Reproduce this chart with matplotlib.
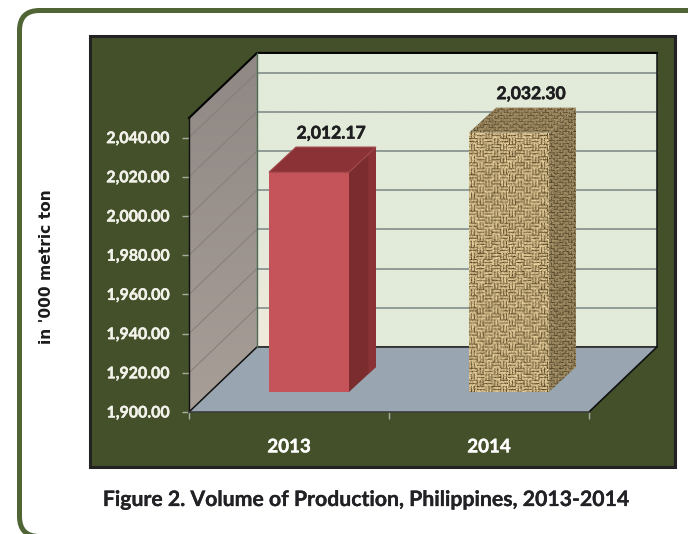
import numpy as np
import matplotlib
matplotlib.use('Agg')
from matplotlib import pyplot as plt
from matplotlib import patheffects as pe
from matplotlib.colors import to_rgb
from matplotlib.patches import FancyBboxPatch, Polygon, Rectangle

years = ['2013', '2014']
production = [2012.17, 2032.30]
value_labels = ['2,012.17', '2,032.30']
y_ticks = [1900, 1920, 1940, 1960, 1980, 2000, 2020, 2040]
y_title = "in '000 metric ton"
caption = 'Figure 2. Volume of Production, Philippines, 2013-2014'

W, H = 688, 534
FONT = 'Lato'

fig = plt.figure(figsize=(W / 100, H / 100), dpi=100, facecolor='white')


def heavy(txt, color, lw=0.4):
    # the original type is a bit heavier than Lato Bold
    txt.set_path_effects([pe.withStroke(linewidth=lw, foreground=color)])


# page frame and dark panel, in pixels
bg = fig.add_axes([0, 0, 1, 1])
bg.set_xlim(0, W)
bg.set_ylim(H, 0)
bg.axis('off')
bg.add_patch(FancyBboxPatch((19.5, 10.5), 720, 526, boxstyle='round,pad=0,rounding_size=20',
                            fc='white', ec='#4f6535', lw=3.6))
bg.add_patch(Rectangle((90, 36), 585, 431, fc='#435029', ec='#222222', lw=2.2))
bg.text(47, 267, y_title, rotation=90, ha='center', va='center', fontsize=11.2,
        fontweight='bold', family='DejaVu Sans', color='#1c1c1c')
t = bg.text(366, 500, caption, ha='center', va='center', fontsize=15.3,
            fontweight='bold', family=FONT, color='#222226')
heavy(t, '#222226', 0.2)

# main axes sit on the front plane of the 3d box
ax = fig.add_axes([189 / W, (H - 412) / H, 400 / W, 294 / H])
ax.patch.set_alpha(0)
ax.set_xlim(-0.5, 1.5)
ax.set_ylim(1900, 2050)
for s in ax.spines.values():
    s.set_visible(False)

DX = 0.34   # box depth in category units
DY = 33.2   # box depth in value units
x0, x1 = ax.get_xlim()
y0, y1 = ax.get_ylim()


def poly(pts, **kw):
    p = Polygon(pts, closed=True, clip_on=False, **kw)
    ax.add_patch(p)
    return p


def paint(img, clip, extent, zorder, interp='bilinear'):
    im = ax.imshow(img, extent=extent, origin='lower', aspect='auto', zorder=zorder, interpolation=interp)
    im.set_clip_box(fig.bbox)
    im.set_clip_path(clip)


# walls and floor
back = poly([(x0 + DX, y0 + DY), (x1 + DX, y0 + DY), (x1 + DX, y1 + DY), (x0 + DX, y1 + DY)],
            fc='none', ec='none', zorder=1)
u, v = np.meshgrid(np.linspace(0, 1, 64), np.linspace(0, 1, 64))
beige = np.clip(1 - u * 3.5, 0, 1) * np.clip(1 - v * 2.2, 0, 1)
wall = (np.array(to_rgb('#e2ead9')) * (1 - beige[..., None]) + np.array(to_rgb('#f0e9dc')) * beige[..., None])
paint(wall, back, (x0 + DX, x1 + DX, y0 + DY, y1 + DY), 1)
side = poly([(x0, y0), (x0 + DX, y0 + DY), (x0 + DX, y1 + DY), (x0, y1)], fc='none', ec='none', zorder=1)
fade = np.linspace(0, 1, 64)[:, None, None]
paint(np.array(to_rgb('#a89e98')) * (1 - fade) + np.array(to_rgb('#8f8884')) * fade, side,
      (x0, x0 + DX, y0, y1 + DY), 1)
poly([(x0, y0), (x1, y0), (x1 + DX, y0 + DY), (x0 + DX, y0 + DY)], fc='#99a6b2', ec='none', zorder=1)

# gridlines, across the back wall and down the side wall
for g in y_ticks[1:]:
    ax.plot([x0 + DX, x1 + DX], [g + DY, g + DY], color='#8b9590', lw=1.3, zorder=2, clip_on=False)
    ax.plot([x0, x0 + DX], [g, g + DY], color='#857d78', lw=0.7, zorder=2, clip_on=False)
ax.plot([x0, x0 + DX, x1 + DX], [y1, y1 + DY, y1 + DY], color='black', lw=1.5, zorder=3, clip_on=False)
ax.plot([x0, x0 + DX, x1 + DX, x1 + DX], [y0, y0 + DY, y0 + DY, y1 + DY], color='#111111', lw=1.1,
        zorder=3, clip_on=False)
ax.plot([x1, x1 + DX], [y0, y0 + DY], color='#111111', lw=1.2, zorder=3, clip_on=False)
ax.plot([x0, x0], [y0, y1], color='#111111', lw=1.0, zorder=3, clip_on=False)
ax.plot([x0 + DX, x0 + DX], [y0 + DY, y1 + DY], color='#4d6b55', lw=1.0, zorder=3, clip_on=False)
ax.plot([x0, x1], [y0, y0], color='#3a3f3a', lw=1.2, zorder=3, clip_on=False)

# bars
BAR_W = 0.40
OFF_X, OFF_Y = 0.10, 10.2      # bar front inset from the axes plane
BAR_DX, BAR_DY = 0.135, 12.8   # bar depth


def burlap(shape, light, dark, cell=6):
    # deterministic basket weave with some uneven grain
    rows, cols = np.mgrid[0:shape[0], 0:shape[1]].astype(float)
    flip = ((rows // cell + cols // (cell + 2)) % 2).astype(bool)
    across = (rows % 3 < 1.5).astype(float)
    down = (cols % 3 < 1.5).astype(float)
    k = np.where(flip, across, down)
    hash_ = np.sin(rows * 12.9898 + cols * 78.233) * 43758.5453
    hash_ = hash_ - np.floor(hash_)
    k = k * 0.55 + hash_ * 0.55 - 0.02
    k = np.clip(k, 0, 1)[..., None]
    return np.array(to_rgb(dark)) * (1 - k) + np.array(to_rgb(light)) * k


for i, val in enumerate(production):
    l = i - BAR_W / 2 + OFF_X
    r = i + BAR_W / 2 + OFF_X
    b = y0 + OFF_Y
    t = val + OFF_Y
    front = [(l, b), (r, b), (r, t), (l, t)]
    right = [(r, b), (r + BAR_DX, b + BAR_DY), (r + BAR_DX, t + BAR_DY), (r, t)]
    top = [(l, t), (r, t), (r + BAR_DX, t + BAR_DY), (l + BAR_DX, t + BAR_DY)]
    if i == 0:
        poly(front, fc='#c4545a', ec='none', zorder=4)
        poly(right, fc='#7a2c2e', ec='none', zorder=4)
        # lighter strip along the far edge of the side face
        s = 0.72
        poly([(r + BAR_DX * s, b + BAR_DY * s), (r + BAR_DX, b + BAR_DY), (r + BAR_DX, t + BAR_DY),
              (r + BAR_DX * s, t + BAR_DY * s)], fc='#8a3235', ec='none', zorder=4)
        poly(top, fc='#8b3236', ec='#a2484a', lw=0.8, zorder=4)
    else:
        fp = poly(front, fc='none', ec='none', zorder=4)
        paint(burlap((258, 82), '#ecd4a0', '#4f3c1c'), fp, (l, r, b, t), 4)
        rp = poly(right, fc='none', ec='none', zorder=4)
        paint(burlap((285, 28), '#a8946a', '#4f4226', cell=3), rp, (r, r + BAR_DX, b, t + BAR_DY), 4)
        tp = poly(top, fc='none', ec='none', zorder=4)
        paint(burlap((26, 108), '#a8946a', '#5a4a2c', cell=3), tp, (l, r + BAR_DX, t, t + BAR_DY), 4)
    lab = ax.annotate(value_labels[i], (i + OFF_X + 0.11, t + BAR_DY), xytext=(0, 13.5),
                      textcoords='offset pixels', ha='center', va='center', fontsize=12.6, fontweight='bold',
                      family=FONT, color='#1e1e20', zorder=5, annotation_clip=False)
    heavy(lab, '#1e1e20')

ax.set_xlim(x0, x1)
ax.set_ylim(y0, y1)
ax.set_xticks([-0.5, 0.5, 1.5])
ax.set_xticklabels([])
ax.set_xticks([0, 1], labels=years, minor=True)
ax.tick_params(axis='x', which='major', length=5, width=1, color='#a9ada0', direction='out')
ax.tick_params(axis='x', which='minor', length=0, pad=19, labelsize=13.5, labelcolor='white')
ax.set_yticks(y_ticks)
ax.set_yticklabels([f'{g:,.2f}' for g in y_ticks])
ax.tick_params(axis='y', length=5, width=1, color='#a9ada0', pad=9, labelsize=11.5, labelcolor='#f2f2ea')
for lab in ax.get_xticklabels(minor=True) + ax.get_yticklabels():
    lab.set_family(FONT)
    lab.set_fontweight('bold')
    heavy(lab, '#f2f2ea', 0.3)

fig.savefig('out.png', dpi=100)
